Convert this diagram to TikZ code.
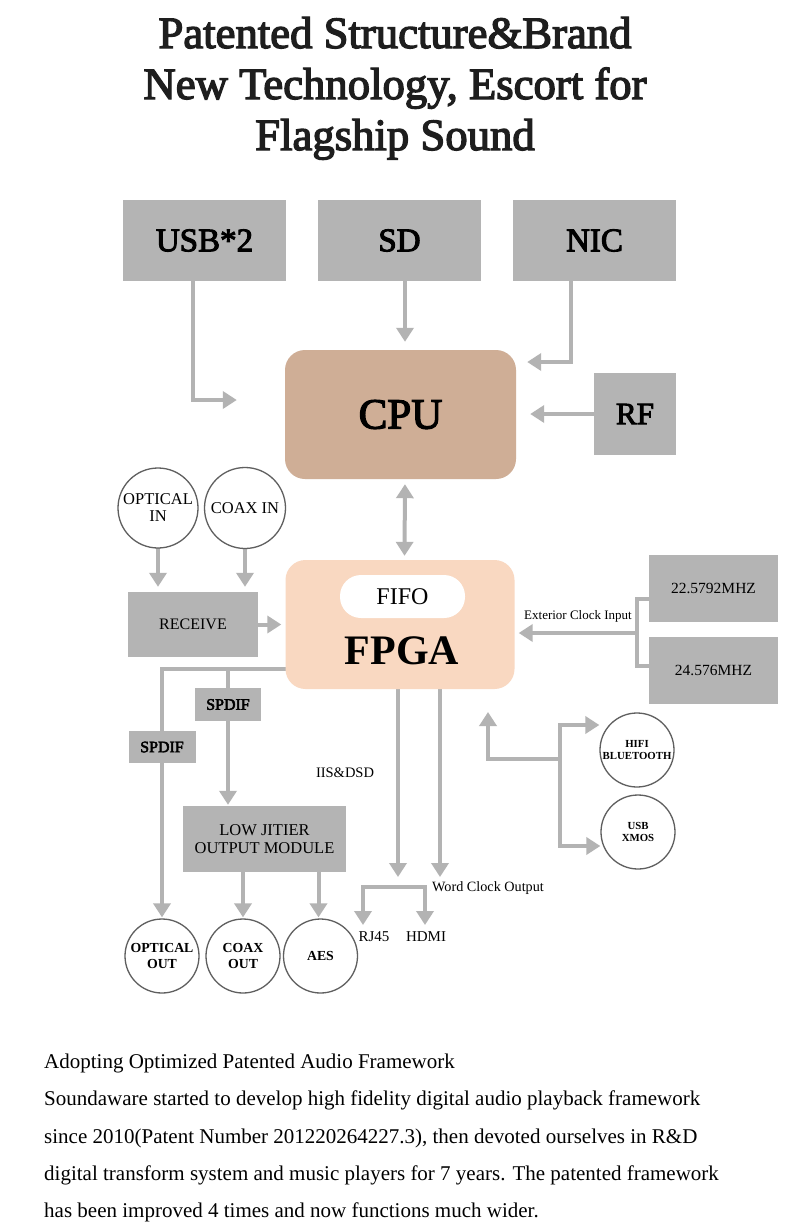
\documentclass[tikz,border=0pt]{standalone}
\usepackage{fontspec}
\setmainfont{Liberation Serif}
\newfontfamily\heavyfont{Liberation Serif}[BoldFont={Liberation Serif}, BoldFeatures={FakeBold=3}]
\usetikzlibrary{arrows.meta,backgrounds,calc}
\definecolor{boxgray}{HTML}{B4B4B4}
\definecolor{linegray}{HTML}{B3B3B3}
\definecolor{cpucol}{HTML}{CFAE96}
\definecolor{fpgacol}{HTML}{F9D8C1}
\definecolor{circcol}{HTML}{5F5F5F}
\definecolor{titlecol}{HTML}{1E1E1E}
\newcommand\fsz[2]{\fontsize{#1}{#2}\selectfont}
\begin{document}
\begin{tikzpicture}[x=1pt,y=-1pt,
  gbox/.style={fill=boxgray, inner sep=0pt, text=black},
  conn/.style={draw=linegray, line width=4pt, line cap=rect},
  arr/.style={conn, -{Triangle[width=17pt,length=14pt]}},
  darr/.style={conn, {Triangle[width=17pt,length=14pt]}-{Triangle[width=17pt,length=14pt]}},
  circ/.style={circle, draw=circcol, line width=1.3pt, fill=white, inner sep=0pt, align=center},
  lbl/.style={inner sep=0pt, text=black},
  ttl/.style={lbl, text=titlecol, anchor=base, font=\heavyfont\bfseries\fsz{44.7}{50}},
  body/.style={lbl, anchor=base west, font=\fsz{21}{24}}]
\useasboundingbox (0,0) rectangle (790,1229);

% title
\node[ttl] (t1) at (395,48) {Patented Structure\&Brand};
\node[ttl] (t2) at (395,99) {New Technology, Escort for};
\node[ttl] (t3) at (395,150) {Flagship Sound};

% top sources
\node[gbox, minimum width=163pt, minimum height=81pt, font=\heavyfont\bfseries\fsz{33}{36}] (usb) at (204.5,240.5) {USB*2};
\node[gbox, minimum width=163pt, minimum height=81pt, font=\heavyfont\bfseries\fsz{33}{36}] (sd) at (399.5,240.5) {SD};
\node[gbox, minimum width=163pt, minimum height=81pt, font=\heavyfont\bfseries\fsz{33}{36}] (nic) at (594.5,240.5) {NIC};
\node[fill=cpucol, rounded corners=20pt, minimum width=231pt, minimum height=129pt, font=\heavyfont\bfseries\fsz{43}{46}] (cpu) at (400.5,414.5) {CPU};
\node[gbox, minimum width=82pt, minimum height=82pt, font=\heavyfont\bfseries\fsz{31}{34}] (rf) at (635,414) {RF};

% FPGA
\node[fill=fpgacol, rounded corners=20pt, minimum width=229pt, minimum height=129pt] (fpga) at (400,624.5) {};
\node[fill=white, rounded corners=21pt, minimum width=125pt, minimum height=43pt, font=\fsz{24}{26}] (fifo) at (402.5,596.5) {FIFO};
\node[lbl, font=\fsz{42}{44}\bfseries] (fpgat) at (402,651) {FPGA};

% inputs
\node[circ, minimum size=80pt, font=\fsz{16.5}{17}] (optin) at (158,508) {OPTICAL\\IN};
\node[circ, minimum size=81pt, font=\fsz{16.5}{17}] (coaxin) at (245,508) {COAX IN};
\node[gbox, minimum width=130pt, minimum height=65pt, font=\fsz{16}{18}] (recv) at (193,624.5) {RECEIVE};

% clocks
\node[gbox, minimum width=129pt, minimum height=67pt, font=\fsz{15.5}{17}] (clka) at (713.5,588.5) {22.5792MHZ};
\node[gbox, minimum width=129pt, minimum height=67pt, font=\fsz{15.5}{17}] (clkb) at (713.5,670.5) {24.576MHZ};
\node[lbl, font=\fsz{13}{15}] (extl) at (578,616) {Exterior Clock Input};

% outputs left
\node[gbox, minimum width=66pt, minimum height=33pt, font=\heavyfont\bfseries\fsz{16}{18}] (spa) at (228,704.5) {SPDIF};
\node[gbox, minimum width=67pt, minimum height=32pt, font=\heavyfont\bfseries\fsz{16}{18}] (spb) at (162,747) {SPDIF};
\node[gbox, minimum width=163pt, minimum height=66pt, font=\fsz{16.5}{17.5}, align=center] (lowj) at (264.5,839) {LOW JITIER\\OUTPUT MODULE};
\node[circ, minimum size=74pt, font=\fsz{13.8}{16}\bfseries] (optout) at (162,956) {OPTICAL\\OUT};
\node[circ, minimum size=74pt, font=\fsz{13.8}{16}\bfseries] (coaxout) at (243,956) {COAX\\OUT};
\node[circ, minimum size=74pt, font=\fsz{13.8}{16}\bfseries] (aes) at (320.5,956) {AES};

% middle labels
\node[lbl, font=\fsz{14.5}{16}] (iis) at (345,773) {IIS\&DSD};
\node[lbl, anchor=base west, font=\fsz{14.2}{16}] (wco) at (432,891) {Word Clock Output};
\node[lbl, font=\fsz{15}{16}] (rj45) at (374,937) {RJ45};
\node[lbl, font=\fsz{15}{16}] (hdmi) at (426,937) {HDMI};

% right circles
\node[circ, minimum size=74pt, font=\fsz{10.8}{12.5}\bfseries] (hifi) at (637,750) {HIFI\\BLUETOOTH};
\node[circ, minimum size=74pt, font=\fsz{10.8}{12.5}\bfseries] (usbx) at (638,832) {USB\\XMOS};

% body text
\node[body] (b1) at (44,1068) {Adopting Optimized Patented Audio Framework};
\node[body] (b2) at (44,1105) {Soundaware started to develop high fidelity digital audio playback framework};
\node[body] (b3) at (44,1143) {since 2010(Patent Number 201220264227.3), then devoted ourselves in R\&D};
\node[body] (b4) at (44,1180) {digital transform system and music players for 7 years. The patented framework};
\node[body] (b5) at (44,1217) {has been improved 4 times and now functions much wider.};

\coordinate (clkj) at (637,633);
\coordinate (fl) at (228,669);
\coordinate (wc1) at (398,877);
\coordinate (wc2) at (440,877);
\coordinate (brm) at (394,887);
\coordinate (brl) at (363,925);
\coordinate (brr) at (425,925);
\coordinate (rj) at (560,759);
\coordinate (uptip) at (488,712);

\begin{scope}[on background layer]
\fill[white] (0,0) rectangle (790,1229);
\draw[arr, shorten >=48pt] ([xshift=-11.5pt]usb.south) |- ([yshift=14.5pt]cpu.west);
\draw[arr, shorten >=8pt] ([xshift=5.5pt]sd.south) -- ([xshift=5.5pt]sd.south |- cpu.north);
\draw[arr, shorten >=11pt] ([xshift=-23.5pt]nic.south) |- ([yshift=52.5pt]cpu.east);
\draw[arr, shorten >=14pt] (rf.west) -- (rf.west -| cpu.east);
\draw[darr, shorten <=5pt, shorten >=4pt] ([xshift=4.5pt]cpu.south) -- ([xshift=4.5pt]fpga.north);
\draw[arr, shorten >=5pt] (optin.south) -- (optin.south |- recv.north);
\draw[arr, shorten >=5pt] (coaxin.south) -- (coaxin.south |- recv.north);
\draw[arr, shorten >=4pt] (recv.east) -- (recv.east -| fpga.west);
\draw[conn] ([yshift=-10.5pt]clka.west) -| (clkj);
\draw[conn] ([yshift=4.5pt]clkb.west) -| (clkj);
\draw[arr, shorten >=4pt] (clkj) -- (clkj -| fpga.east);
\draw[arr, shorten >=1pt] ([yshift=-44.5pt]fpga.west) -| (optout.north);
\draw[conn] (fl) -- (spa.north);
\draw[arr, shorten >=1pt] (spa.south) -- (spa.south |- lowj.north);
\draw[arr, shorten >=1pt] (coaxout.north |- lowj.south) -- (coaxout.north);
\draw[arr, shorten >=1pt] ([xshift=-2pt]aes.north |- lowj.south) -- ([xshift=-2pt]aes.north);
\draw[arr] (fpga.south -| wc1) -- (wc1);
\draw[arr] (fpga.south -| wc2) -- (wc2);
\draw[arr] (brm) -| (brl);
\draw[arr] (brm) -| (brr);
\draw[arr] (rj) -| (uptip);
\draw[arr] (rj) |- ([yshift=25pt]hifi.west);
\draw[arr] (rj) |- ([yshift=-14pt]usbx.west);
\end{scope}
\end{tikzpicture}
\end{document}
